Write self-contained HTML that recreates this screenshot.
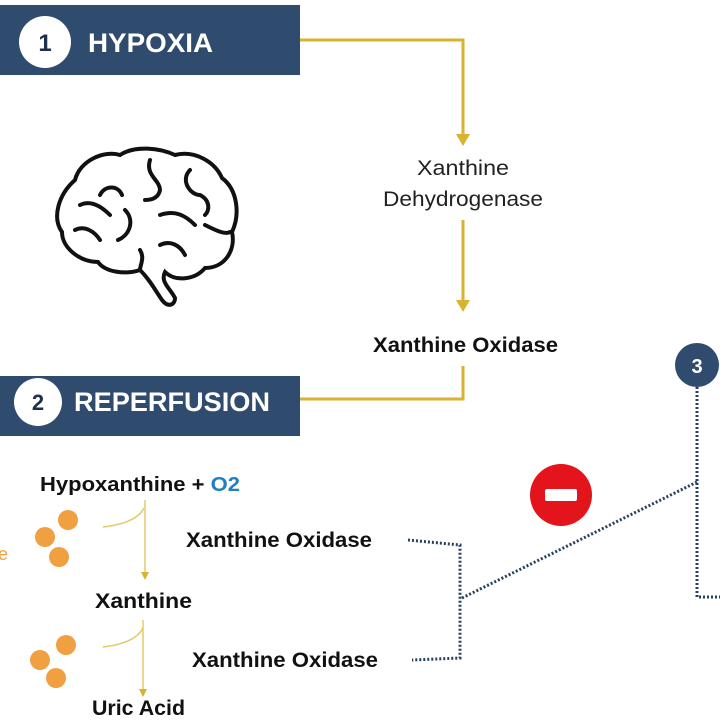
<!DOCTYPE html>
<html><head><meta charset="utf-8"><style>
body{margin:0;width:720px;height:720px;background:#fff;overflow:hidden}
svg text{font-family:"Liberation Sans",sans-serif}
</style></head><body>
<svg width="720" height="720" viewBox="0 0 720 720">
<!-- header 1 -->
<rect x="0" y="5" width="300" height="70" fill="#2f4b6e"/>
<circle cx="45" cy="42" r="26" fill="#fff"/>
<text x="45" y="51" text-anchor="middle" font-size="24" font-weight="bold" fill="#1f2f4f">1</text>
<text x="88" y="52" font-size="27" font-weight="bold" fill="#fff" textLength="125" lengthAdjust="spacingAndGlyphs">HYPOXIA</text>
<!-- yellow lines -->
<g stroke="#d9b22e" stroke-width="3" fill="none">
<polyline points="300,40 463,40 463,136"/>
<line x1="463" y1="220" x2="463" y2="302"/>
<polyline points="463,366 463,399 300,399"/>
</g>
<path d="M456,134 L470,134 L463,146 Z" fill="#d9b22e"/>
<path d="M456,300 L470,300 L463,312 Z" fill="#d9b22e"/>
<text x="417" y="175" font-size="21" fill="#222" textLength="92" lengthAdjust="spacingAndGlyphs">Xanthine</text>
<text x="383" y="206" font-size="21" fill="#222" textLength="160" lengthAdjust="spacingAndGlyphs">Dehydrogenase</text>
<text x="373" y="352" font-size="21" font-weight="bold" fill="#111" textLength="185" lengthAdjust="spacingAndGlyphs">Xanthine Oxidase</text>
<!-- header 2 -->
<rect x="0" y="376" width="300" height="60" fill="#2f4b6e"/>
<circle cx="38" cy="402" r="24" fill="#fff"/>
<text x="38" y="410" text-anchor="middle" font-size="22" font-weight="bold" fill="#1f2f4f">2</text>
<text x="74" y="411" font-size="27" font-weight="bold" fill="#fff" textLength="196" lengthAdjust="spacingAndGlyphs">REPERFUSION</text>
<!-- brain -->
<g fill="none" stroke="#111" stroke-width="4" stroke-linecap="round">
<path d="M75,180 C80,160 105,150 120,155 C135,145 160,148 175,155 C195,150 215,162 222,178 C238,190 240,215 232,232 C236,250 225,268 205,268 C195,280 175,282 165,272 C160,282 170,288 175,298 C175,305 168,308 162,300 C155,290 150,280 140,270 C125,275 105,272 98,262 C80,262 62,248 62,232 C52,218 58,195 75,180 Z"/>
<path d="M80,205 C90,200 100,205 110,215"/>
<path d="M100,195 C105,185 118,185 122,195"/>
<path d="M150,160 C145,175 160,180 160,190 C158,200 148,200 145,200"/>
<path d="M190,170 C180,180 190,195 200,195 C210,200 210,210 205,215"/>
<path d="M160,215 C175,210 185,215 195,225"/>
<path d="M125,210 C135,220 130,235 118,240"/>
<path d="M75,230 C85,225 95,232 100,240"/>
<path d="M160,245 C170,240 180,245 185,255"/>
<path d="M205,225 C215,230 225,235 230,232"/>
<path d="M140,250 C145,258 140,265 140,270"/>
</g>
<!-- step 3 -->
<circle cx="697" cy="365" r="22" fill="#2f4b6e"/>
<text x="697" y="373" text-anchor="middle" font-size="20" font-weight="bold" fill="#fff">3</text>
<g stroke="#26405f" stroke-width="3" stroke-dasharray="2,2" fill="none">
<polyline points="697,387 697,597 720,597"/>
<line x1="462" y1="598" x2="697" y2="482"/>
<polyline points="408,540 460,545 460,658 412,660"/>
</g>
<circle cx="561" cy="495" r="31" fill="#e3141b"/>
<rect x="545" y="489" width="32" height="12" rx="2" fill="#fff"/>
<!-- reactions -->
<text x="40" y="491" font-size="20" font-weight="bold" fill="#111" textLength="200" lengthAdjust="spacingAndGlyphs">Hypoxanthine + <tspan fill="#1f7fc0">O2</tspan></text>
<g stroke="#e0cb6a" stroke-width="1.5" fill="none">
<line x1="145" y1="500" x2="145" y2="573"/>
<path d="M144,508 C138,520 120,525 103,527"/>
<line x1="143" y1="620" x2="143" y2="690"/>
<path d="M143,628 C137,640 120,645 103,647"/>
</g>
<path d="M141,572 L149,572 L145,580 Z" fill="#d9b22e"/>
<path d="M139,689 L147,689 L143,697 Z" fill="#d9b22e"/>
<g fill="#f0a040">
<circle cx="68" cy="520" r="10"/><circle cx="45" cy="537" r="10"/><circle cx="59" cy="557" r="10"/>
<circle cx="66" cy="645" r="10"/><circle cx="40" cy="660" r="10"/><circle cx="56" cy="678" r="10"/>
</g>
<text x="-2" y="560" font-size="18" fill="#f0a040">e</text>
<text x="186" y="547" font-size="21" font-weight="bold" fill="#111" textLength="186" lengthAdjust="spacingAndGlyphs">Xanthine Oxidase</text>
<text x="95" y="608" font-size="21" font-weight="bold" fill="#111" textLength="97" lengthAdjust="spacingAndGlyphs">Xanthine</text>
<text x="192" y="667" font-size="21" font-weight="bold" fill="#111" textLength="186" lengthAdjust="spacingAndGlyphs">Xanthine Oxidase</text>
<text x="92" y="715" font-size="21" font-weight="bold" fill="#111" textLength="93" lengthAdjust="spacingAndGlyphs">Uric Acid</text>
</svg>
</body></html>
